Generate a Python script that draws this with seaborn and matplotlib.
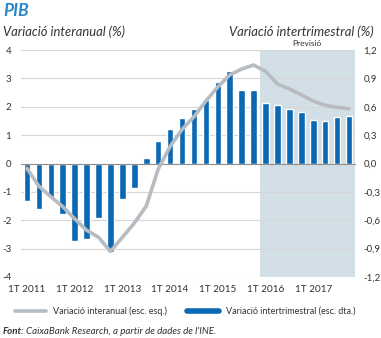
import numpy as np
import pandas as pd
import matplotlib
matplotlib.use("Agg")
import matplotlib.pyplot as plt
import matplotlib.transforms as mtransforms
from matplotlib.lines import Line2D
import seaborn as sns

# ---------------- data ----------------
quarters = [
    "1T 2011", "2T 2011", "3T 2011", "4T 2011",
    "1T 2012", "2T 2012", "3T 2012", "4T 2012",
    "1T 2013", "2T 2013", "3T 2013", "4T 2013",
    "1T 2014", "2T 2014", "3T 2014", "4T 2014",
    "1T 2015", "2T 2015", "3T 2015", "4T 2015",
    "1T 2016", "2T 2016", "3T 2016", "4T 2016",
    "1T 2017", "2T 2017", "3T 2017", "4T 2017",
]
interanual = [-0.17, -0.80, -1.17, -1.52, -1.95, -2.35, -2.60, -3.10,
              -2.60, -2.10, -1.50, -0.20, 0.60, 1.20, 1.65, 2.20,
              2.70, 3.12, 3.33, 3.47, 3.25, 2.80, 2.63, 2.42,
              2.20, 2.05, 1.98, 1.93]
intertrimestral = [-0.40, -0.48, -0.35, -0.53, -0.82, -0.80, -0.58, -0.94,
                   -0.38, -0.26, 0.06, 0.24, 0.36, 0.48, 0.58, 0.67,
                   0.86, 0.98, 0.78, 0.78, 0.64, 0.62, 0.58, 0.54,
                   0.46, 0.45, 0.49, 0.50]
year_labels = ["1T 2011", "1T 2012", "1T 2013", "1T 2014", "1T 2015", "1T 2016", "1T 2017"]
left_ticks = [-4, -3, -2, -1, 0, 1, 2, 3, 4]
left_ticklabels = ["-4", "-3", "-2", "-1", "0", "1", "2", "3", "4"]
right_ticks = [-1.2, -0.9, -0.6, -0.3, 0.0, 0.3, 0.6, 0.9, 1.2]
right_ticklabels = ["-1,2", "-0,9", "-0,6", "-0,3", "0,0", "0,3", "0,6", "0,9", "1,2"]
forecast_from = "1T 2016"

df = pd.DataFrame({"quarter": quarters,
                   "idx": np.arange(len(quarters)),
                   "interanual": interanual,
                   "intertrimestral": intertrimestral})

# ---------------- style ----------------
sns.set_style("white")
plt.rcParams["font.family"] = ["Lato", "DejaVu Sans"]

BLUE = "#0b68b2"
GRAY_LINE = "#b6bcc2"
SHADE = "#d3dfe7"
GRID = "#d6d6d6"
AXIS = "#8f8f8f"
TEXT = "#333333"
TITLE_BLUE = "#2a86c8"

W, H = 381, 338
fig = plt.figure(figsize=(W / 100, H / 100), dpi=100)
left_px, right_px, top_px, bot_px = 21, 355, 50, 277
ax = fig.add_axes([left_px / W, 1 - bot_px / H, (right_px - left_px) / W, (bot_px - top_px) / H])
ax_line = ax.twinx()

# bars (right scale)
sns.barplot(data=df, x="idx", y="intertrimestral", ax=ax, native_scale=True,
            color=BLUE, saturation=1, width=0.55, zorder=2)
# line (left scale)
sns.lineplot(data=df, x="idx", y="interanual", ax=ax_line, color=GRAY_LINE,
             lw=2.6, zorder=3)

n = len(quarters)
ax.set_xlim(-0.5, n - 0.5)
ax.set_ylim(right_ticks[0], right_ticks[-1])
ax_line.set_ylim(left_ticks[0], left_ticks[-1])

# forecast shading
fstart = quarters.index(forecast_from) - 0.5
ax.axvspan(fstart, n - 0.5, color=SHADE, zorder=0, lw=0)
trans = mtransforms.blended_transform_factory(ax.transData, ax.transAxes)
ax.text((fstart + n - 0.5) / 2, 1.012, "Previsió", transform=trans,
        ha="center", va="bottom", fontsize=6, color=TEXT)

# grid
ax.set_axisbelow(True)
ax.set_yticks(right_ticks)
ax.set_yticklabels(right_ticklabels)
ax.yaxis.tick_right()
ax.grid(axis="y", color=GRID, lw=0.8, zorder=0.5)
ax.grid(axis="x", visible=False)
ax.tick_params(axis="y", length=0, pad=6, labelsize=7, colors=TEXT)

ax_line.set_yticks(left_ticks)
ax_line.set_yticklabels(left_ticklabels)
ax_line.yaxis.tick_left()
ax_line.tick_params(axis="y", length=0, pad=7, labelsize=7, colors=TEXT)
ax_line.set_ylabel("")
ax.set_ylabel("")
ax.set_xlabel("")
ax_line.set_xlabel("")

# zero axis with year-boundary ticks
for s in ["top", "left", "right"]:
    ax.spines[s].set_visible(False)
for s in ax_line.spines.values():
    s.set_visible(False)
ax.spines["bottom"].set_position(("data", 0))
ax.spines["bottom"].set_color(AXIS)
ax.spines["bottom"].set_linewidth(0.8)
year_pos = [quarters.index(y) for y in year_labels]
ax.set_xticks([p - 0.5 for p in year_pos] + [n - 0.5])
ax.set_xticklabels([])
ax.tick_params(axis="x", direction="in", length=3, width=0.8, color=AXIS)

sec = ax.secondary_xaxis("bottom")
sec.set_xticks(year_pos)
sec.set_xticklabels(year_labels)
sec.tick_params(length=0, pad=6, labelsize=7.2, colors=TEXT)
sec.spines["bottom"].set_visible(False)

# titles
fig.text(3 / W, 1 - 11 / H, "PIB", fontsize=12.5, fontweight="bold", fontstyle="italic",
         color=TITLE_BLUE, va="center", ha="left")
fig.text(3 / W, 1 - 32 / H, "Variació interanual (%)", fontsize=9.4, fontstyle="italic",
         color=TEXT, va="center", ha="left")
fig.text(374 / W, 1 - 32 / H, "Variació intertrimestral (%)", fontsize=9.4, fontstyle="italic",
         color=TEXT, va="center", ha="right")

# legend
handles = [Line2D([], [], color=GRAY_LINE, lw=2.6),
           Line2D([], [], color=BLUE, lw=4)]
fig.legend(handles, ["Variació interanual (esc. esq.)", "Variació intertrimestral (esc. dta.)"],
           loc="center", bbox_to_anchor=(185 / W, 1 - 311 / H), ncol=2, frameon=False,
           fontsize=6.5, handlelength=3.5, handletextpad=0.8, columnspacing=2.2,
           labelcolor=TEXT)

# source
t1 = fig.text(3 / W, 1 - 331 / H, "Font:", fontsize=7, fontweight="bold",
              fontstyle="italic", color=TEXT, va="center", ha="left")
fig.canvas.draw()
bb = t1.get_window_extent()
fig.text(bb.x1 / W + 1 / W, 1 - 331 / H, "CaixaBank Research, a partir de dades de l'INE.",
         fontsize=7, fontstyle="italic", color=TEXT, va="center", ha="left")

fig.savefig("out.png", dpi=100)
